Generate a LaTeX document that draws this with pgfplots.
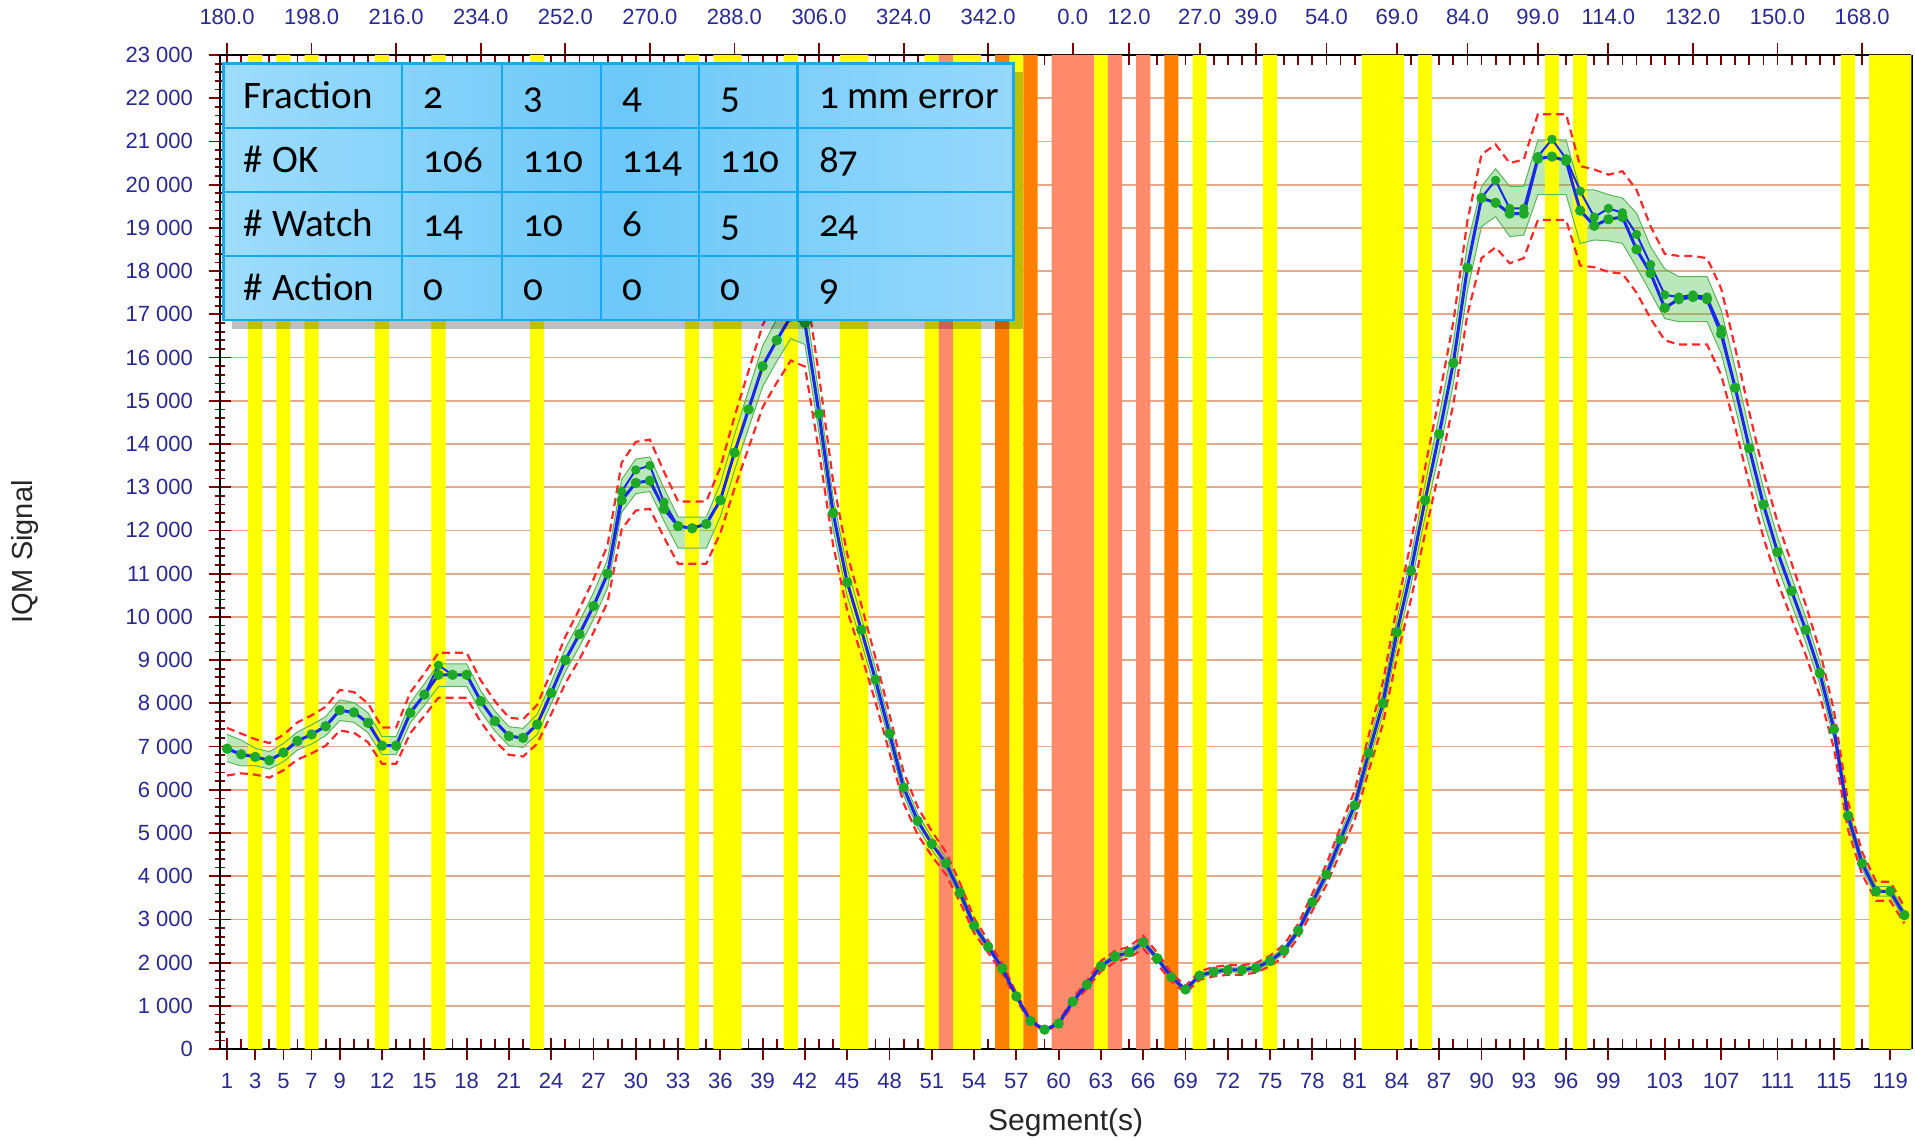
\documentclass[border=0pt]{standalone}
\usepackage{pgfplots}
\pgfplotsset{compat=1.18}
\usepackage{pgfplotstable}
\usepgfplotslibrary{fillbetween}
\usepackage{fontspec}
\setmainfont{Liberation Sans}
\newfontfamily\tabfont[Numbers=OldStyle]{Carlito}

\definecolor{watchyellow}{RGB}{255,255,0}
\definecolor{actorange}{RGB}{255,128,0}
\definecolor{actsalmon}{RGB}{255,138,108}
\definecolor{gridbrown}{RGB}{228,170,140}
\definecolor{tickred}{RGB}{128,0,0}
\definecolor{tickblue}{RGB}{40,40,150}
\definecolor{lineblue}{RGB}{25,40,235}
\definecolor{markgreen}{RGB}{30,170,40}
\definecolor{bandfill}{RGB}{60,190,60}
\definecolor{bandedge}{RGB}{90,180,90}
\definecolor{redline}{RGB}{255,40,40}
\definecolor{tabline}{RGB}{20,170,240}
\definecolor{tabL}{RGB}{158,220,252}
\definecolor{tabM}{RGB}{108,200,248}
\definecolor{tabR}{RGB}{150,216,252}

\newcommand{\ks}{\hspace{0.28em}}

% segment, two fraction curves, green tolerance band, red action limits
\pgfplotstableread{
s A B gl gu rl ru
1 6950 6950 6650 7280 6330 7430
2 6820 6820 6550 7150 6380 7300
3 6760 6760 6560 6960 6350 7170
4 6680 6680 6480 6880 6280 7080
5 6860 6860 6650 7070 6450 7270
6 7130 7130 6920 7340 6700 7560
7 7280 7280 7060 7500 6840 7720
8 7470 7470 7250 7690 7020 7920
9 7840 7840 7600 8080 7370 8310
10 7790 7790 7560 8020 7320 8260
11 7550 7550 7320 7780 7100 8000
12 7020 7020 6810 7230 6600 7440
13 7020 7020 6810 7230 6600 7440
14 7780 7780 7550 8010 7310 8250
15 8200 8200 7950 8450 7710 8690
16 8660 8880 8390 8910 8130 9170
17 8660 8660 8390 8910 8130 9170
18 8660 8660 8390 8910 8130 9170
19 8050 8050 7810 8290 7570 8530
20 7590 7590 7360 7820 7130 8050
21 7240 7240 7020 7460 6810 7670
22 7200 7200 6980 7420 6770 7630
23 7510 7510 7280 7740 7060 7960
24 8240 8240 7990 8490 7750 8730
25 9000 9000 8730 9270 8460 9540
26 9600 9600 9310 9890 9020 10180
27 10250 10250 9940 10560 9640 10870
28 11000 11000 10670 11330 10340 11660
29 12700 12900 12420 13180 12030 13570
30 13100 13400 12850 13650 12460 14050
31 13150 13500 12900 13700 12500 14100
32 12500 12650 12220 12980 11840 13360
33 12100 12100 11590 12310 11230 12670
34 12050 12050 11590 12310 11230 12670
35 12150 12150 11590 12310 11230 12670
36 12700 12700 12320 13080 11940 13460
37 13800 13800 13390 14210 12970 14630
38 14800 14800 14360 15240 13910 15690
39 15800 15800 15330 16270 14850 16750
40 16400 16400 15910 16890 15420 17380
41 16950 16950 16440 17460 15930 17970
42 16800 16800 16300 17300 15790 17810
43 14700 14700 14260 15140 13820 15580
44 12400 12400 12030 12770 11660 13140
45 10800 10800 10480 11120 10150 11450
46 9700 9700 9410 9990 9120 10280
47 8550 8550 8290 8810 8040 9060
48 7300 7300 7080 7520 6860 7740
49 6050 6050 5870 6230 5690 6410
50 5280 5280 5120 5440 4960 5600
51 4750 4750 4610 4890 4470 5040
52 4300 4300 4170 4430 4040 4560
53 3620 3620 3510 3730 3400 3840
54 2860 2860 2770 2950 2690 3030
55 2370 2370 2300 2440 2230 2510
56 1870 1870 1810 1930 1760 1980
57 1220 1220 1180 1260 1150 1290
58 650 650 630 670 610 690
59 450 450 440 460 420 480
60 590 590 570 610 550 630
61 1100 1100 1070 1130 1030 1170
62 1490 1490 1450 1530 1400 1580
63 1920 1920 1860 1980 1800 2040
64 2140 2140 2080 2200 2010 2270
65 2240 2240 2170 2310 2110 2370
66 2470 2470 2400 2540 2320 2620
67 2100 2100 2040 2160 1970 2230
68 1660 1660 1610 1710 1560 1760
69 1380 1380 1340 1420 1300 1460
70 1700 1700 1650 1750 1600 1800
71 1790 1790 1740 1840 1680 1900
72 1830 1830 1780 1880 1720 1940
73 1830 1830 1780 1880 1720 1940
74 1880 1880 1820 1940 1770 1990
75 2040 2040 1980 2100 1920 2160
76 2280 2280 2210 2350 2140 2420
77 2740 2740 2660 2820 2580 2900
78 3400 3400 3300 3500 3200 3600
79 4040 4040 3920 4160 3800 4280
80 4850 4850 4700 5000 4560 5140
81 5640 5640 5470 5810 5300 5980
82 6850 6850 6640 7060 6440 7260
83 8000 8000 7760 8240 7520 8480
84 9650 9650 9360 9940 9070 10230
85 11070 11070 10740 11400 10410 11730
86 12700 12700 12320 13080 11940 13460
87 14230 14230 13800 14660 13380 15080
88 15870 15870 15390 16350 14920 16820
89 18080 18080 17540 18620 17000 19160
90 19690 19700 19030 19960 18300 20700
91 19580 20100 19260 20370 18550 20930
92 19330 19450 18800 19960 18180 20500
93 19330 19450 18830 19960 18300 20580
94 20600 20650 19770 21035 19180 21630
95 20650 21050 19770 21035 19180 21630
96 20550 20600 19770 21035 19180 21630
97 19400 19850 18640 19880 18130 20430
98 19050 19250 18720 19880 18090 20350
99 19200 19450 18700 19770 17980 20230
100 19250 19350 18640 19690 17940 20310
101 18500 18850 18090 19340 17500 19880
102 17950 18150 17500 18560 16900 19030
103 17150 17450 16900 18050 16400 18400
104 17350 17400 16830 17870 16300 18350
105 17400 17450 16830 17870 16300 18350
106 17350 17400 16830 17870 16300 18300
107 16550 16650 16100 17100 15600 17600
108 15300 15300 14840 15760 14380 16220
109 13900 13900 13480 14320 13070 14730
110 12600 12600 12220 12980 11840 13360
111 11500 11500 11160 11850 10810 12190
112 10600 10600 10280 10920 9960 11240
113 9700 9700 9410 9990 9120 10280
114 8700 8700 8440 8960 8180 9220
115 7400 7400 7180 7620 6960 7840
116 5400 5400 5240 5560 5080 5720
117 4300 4300 4170 4430 4040 4560
118 3650 3650 3540 3760 3430 3870
119 3650 3650 3540 3760 3430 3870
120 3100 3100 3010 3190 2910 3290
}\segdata

\begin{document}
\begin{tikzpicture}

% background axis: watch/action bands, top gantry-angle axis, right spine
\begin{axis}[
  scale only axis, width=845.8pt, height=497.1pt,
  xmin=0.5, xmax=120.5, ymin=0, ymax=23000,
  scaled ticks=false,
  axis x line*=top, axis y line*=right,
  axis line style={-, black, line width=1.2pt},
  tick align=inside,
  major tick length=11pt, minor tick length=5pt,
  tick style={tickred, line width=0.9pt},
  major x tick style={yshift=6pt},
  xtick={1,7,13,19,25,31,37,43,49,55,61,65,70,74,79,84,89,94,99,105,111,117},
  xticklabels={180.0,198.0,216.0,234.0,252.0,270.0,288.0,306.0,324.0,342.0,0.0,12.0,27.0,39.0,54.0,69.0,84.0,99.0,114.0,132.0,150.0,168.0},
  minor xtick={1,...,120},
  ytick={0,1000,...,23000}, yticklabels={}, minor y tick num=4,
  yticklabel style={overlay},
  tick label style={font=\fontsize{11}{13}\selectfont, text=tickblue},
  xticklabel style={yshift=11.5pt},
]
\addplot[ybar, bar width=1, bar shift=0pt, fill=watchyellow, draw=none] coordinates {
  (3,23000) (5,23000) (7,23000) (12,23000) (16,23000) (23,23000) (34,23000)
  (36,23000) (37,23000) (41,23000) (45,23000) (46,23000) (51,23000) (53,23000)
  (54,23000) (57,23000) (63,23000) (70,23000) (75,23000) (82,23000) (83,23000)
  (84,23000) (86,23000) (95,23000) (97,23000) (116,23000) (118,23000)
  (119,23000) (120,23000)};
\addplot[ybar, bar width=1, bar shift=0pt, fill=actorange, draw=none] coordinates {
  (56,23000) (58,23000) (68,23000)};
\addplot[ybar, bar width=1, bar shift=0pt, fill=actsalmon, draw=none] coordinates {
  (52,23000) (60,23000) (61,23000) (62,23000) (64,23000) (66,23000)};
\end{axis}

% main axis: grid, curves, segment axis
\begin{axis}[
  name=main,
  scale only axis, width=845.8pt, height=497.1pt,
  xmin=0.5, xmax=120.5, ymin=0, ymax=23000,
  scaled ticks=false,
  axis x line*=bottom, axis y line*=left,
  axis line style={-, black, line width=1.2pt},
  tick align=center,
  major tick length=11pt, minor tick length=5pt,
  tick style={tickred, line width=0.9pt},
  minor x tick style={yshift=2.5pt},
  xtick={1,3,5,7,9,12,15,18,21,24,27,30,33,36,39,42,45,48,51,54,57,60,63,66,69,72,75,78,81,84,87,90,93,96,99,103,107,111,115,119},
  minor xtick={1,...,120},
  ytick={0,1000,...,23000},
  yticklabels={0,1\ks000,2\ks000,3\ks000,4\ks000,5\ks000,6\ks000,7\ks000,8\ks000,9\ks000,10\ks000,11\ks000,12\ks000,13\ks000,14\ks000,15\ks000,16\ks000,17\ks000,18\ks000,19\ks000,20\ks000,21\ks000,22\ks000,23\ks000},
  minor y tick num=4,
  ymajorgrids, major grid style={gridbrown, line width=0.9pt},
  /pgf/number format/assume math mode=true,
  tick label style={font=\fontsize{11}{13}\selectfont, text=tickblue},
  xticklabel style={yshift=-3pt},
  yticklabel style={xshift=-4.5pt},
  xlabel={Segment(s)}, ylabel={IQM Signal},
  every axis x label/.style={at={(axis description cs:0.5,-0.0738)}, anchor=center,
    inner sep=0pt, font=\fontsize{15}{17}\selectfont, text=black!85},
  every axis y label/.style={at={(axis description cs:-0.1155,0.5)}, rotate=90, anchor=center,
    inner sep=0pt, font=\fontsize{14.5}{17}\selectfont, text=black!85},
]
\addplot[name path=gu, draw=bandedge, line width=0.5pt] table[x=s, y=gu] {\segdata};
\addplot[name path=gl, draw=bandedge, line width=0.5pt] table[x=s, y=gl] {\segdata};
\addplot[fill=bandfill, fill opacity=0.35, draw=none] fill between[of=gu and gl];

\addplot[redline, line width=1.1pt, dash pattern=on 4pt off 2.5pt] table[x=s, y=ru] {\segdata};
\addplot[redline, line width=1.1pt, dash pattern=on 4pt off 2.5pt] table[x=s, y=rl] {\segdata};

\addplot[lineblue, line width=1pt, mark=*, mark size=1.8pt,
  mark options={fill=markgreen, draw=markgreen, solid}] table[x=s, y=B] {\segdata};
\addplot[lineblue, line width=1.5pt, mark=*, mark size=1.8pt,
  mark options={fill=markgreen, draw=markgreen, solid}] table[x=s, y=A] {\segdata};
\end{axis}

% summary table laid over the top-left corner
\begin{scope}[shift={(1.8pt,492.8pt)}]
  \fill[black, opacity=0.25] (4pt,-132.5pt) rectangle (399.5pt,-4pt);
  \shade[left color=tabL, right color=tabR, middle color=tabM] (0,0) rectangle (395.1pt,-128.2pt);
  \foreach \x in {89.2,139.2,188.7,237.6,287.0}
    \draw[tabline, line width=1.1pt] (\x pt,0) -- (\x pt,-128.2pt);
  \foreach \y in {32.05,64.1,96.15}
    \draw[tabline, line width=1.1pt] (0,-\y pt) -- (395.1pt,-\y pt);
  \draw[tabline, line width=1.4pt] (0,0) rectangle (395.1pt,-128.2pt);
  \tikzset{tc/.style={anchor=base west, inner sep=0pt, font=\tabfont\fontsize{19.5}{22}\selectfont}}
  \node[tc] at (10pt,-22.4pt) {Fraction};
  \node[tc] at (99.8pt,-22.4pt) {2};
  \node[tc] at (149.8pt,-22.4pt) {3};
  \node[tc] at (199.3pt,-22.4pt) {4};
  \node[tc] at (248.2pt,-22.4pt) {5};
  \node[tc] at (297.6pt,-22.4pt) {1 mm error};
  \node[tc] at (10pt,-54.5pt) {\# OK};
  \node[tc] at (99.8pt,-54.5pt) {106};
  \node[tc] at (149.8pt,-54.5pt) {110};
  \node[tc] at (199.3pt,-54.5pt) {114};
  \node[tc] at (248.2pt,-54.5pt) {110};
  \node[tc] at (297.6pt,-54.5pt) {87};
  \node[tc] at (10pt,-86.5pt) {\# Watch};
  \node[tc] at (99.8pt,-86.5pt) {14};
  \node[tc] at (149.8pt,-86.5pt) {10};
  \node[tc] at (199.3pt,-86.5pt) {6};
  \node[tc] at (248.2pt,-86.5pt) {5};
  \node[tc] at (297.6pt,-86.5pt) {24};
  \node[tc] at (10pt,-118.6pt) {\# Action};
  \node[tc] at (99.8pt,-118.6pt) {0};
  \node[tc] at (149.8pt,-118.6pt) {0};
  \node[tc] at (199.3pt,-118.6pt) {0};
  \node[tc] at (248.2pt,-118.6pt) {0};
  \node[tc] at (297.6pt,-118.6pt) {9};
\end{scope}

% fixed picture frame, same margins as the reference
\path (-110pt,-45.2pt) rectangle (847.6pt,524.6pt);
\end{tikzpicture}
\end{document}
